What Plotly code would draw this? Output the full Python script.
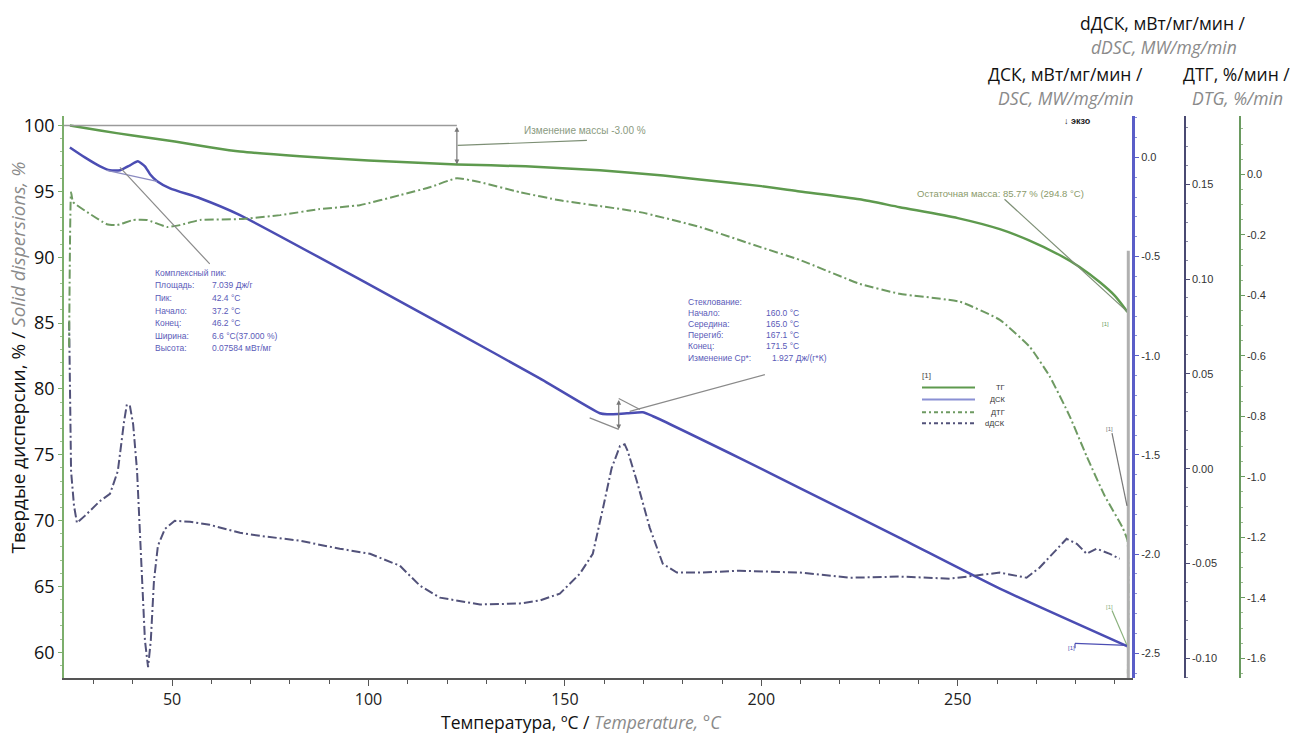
import plotly.graph_objects as go

# ---------------- data ----------------
# TG, % (left axis)
T_tg = [24.0, 31.7, 40.0, 50.7, 60.0, 67.3, 82.5, 100.0, 122.5, 140.0, 158.9, 175.0, 184.3,
        200.0, 209.8, 225.0, 235.2, 250.0, 260.7, 268.0, 275.9, 281.0, 286.1, 290.0, 293.2]
tg = [100.0, 99.62, 99.24, 98.79, 98.34, 98.03, 97.66, 97.35, 97.05, 96.9, 96.6, 96.2, 95.9,
      95.4, 95.0, 94.4, 93.8, 92.97, 92.13, 91.3, 90.17, 89.26, 88.12, 87.07, 85.85]

# DSC, mW/mg
T_dsc = [24.0, 27.8, 31.7, 34.2, 36.8, 39.3, 41.3, 43.1, 44.4, 46.2, 49.5, 57.1, 67.3, 99.9,
         120.7, 143.6, 158.9, 160.7, 165.8, 169.8, 172.4, 194.5, 209.8, 235.2, 260.7, 293.2]
dsc = [0.050, 0.000, -0.045, -0.065, -0.065, -0.040, -0.020, -0.045, -0.085, -0.120, -0.156,
       -0.206, -0.291, -0.638, -0.863, -1.114, -1.290, -1.295, -1.290, -1.285, -1.305, -1.516,
       -1.667, -1.918, -2.174, -2.465]

# DTG, %/min
T_dtg = [23.8, 24.3, 24.8, 28.4, 33.4, 36.0, 40.1, 43.6, 48.7, 52.0, 57.1, 67.3, 77.5, 87.6,
         97.8, 108.0, 115.6, 122.5, 128.4, 138.5, 148.7, 158.9, 169.1, 184.3, 199.6, 209.8,
         225.0, 235.2, 250.5, 260.7, 268.3, 273.4, 278.5, 282.8, 287.4, 292.0, 293.2, 293.3]
dtg = [-0.570, -0.059, -0.092, -0.125, -0.165, -0.168, -0.151, -0.151, -0.174, -0.168, -0.151,
       -0.148, -0.135, -0.115, -0.102, -0.069, -0.043, -0.013, -0.026, -0.059, -0.086, -0.105,
       -0.125, -0.174, -0.240, -0.283, -0.362, -0.395, -0.421, -0.481, -0.570, -0.668, -0.800,
       -0.932, -1.063, -1.169, -1.211, -1.650]

# dDSC, mW/mg/min
T_ddsc = [23.8, 24.3, 25.05, 25.8, 27.8, 31.7, 34.2, 36.2, 37.8, 38.5, 39.3, 40.1, 41.1, 42.1,
          43.1, 43.9, 44.6, 45.4, 46.4, 48.2, 50.7, 54.6, 59.6, 67.3, 72.4, 82.5, 92.7, 100.4,
          108.0, 113.1, 118.2, 128.4, 138.5, 143.6, 148.7, 153.8, 157.1, 159.7, 161.9, 164.0,
          165.2, 166.0, 168.3, 171.6, 174.9, 178.5, 184.3, 194.5, 209.8, 222.5, 235.2, 248.0,
          260.7, 267.5, 270.8, 277.7, 280.3, 282.8, 285.3, 288.7, 291.2]
ddsc = [0.0775, -0.0013, -0.0196, -0.0286, -0.0249, -0.0170, -0.0133, -0.0013, 0.0250, 0.0339,
        0.0329, 0.0234, -0.0013, -0.0485, -0.0905, -0.1047, -0.0905, -0.0590, -0.0407, -0.0317,
        -0.0275, -0.0280, -0.0296, -0.0338, -0.0354, -0.0380, -0.0422, -0.0449, -0.0512, -0.0617,
        -0.0680, -0.0716, -0.0711, -0.0695, -0.0659, -0.0554, -0.0449, -0.0207, 0.0003, 0.0119,
        0.0129, 0.0092, -0.0065, -0.0312, -0.0501, -0.0548, -0.0548, -0.0538, -0.0548, -0.0575,
        -0.0569, -0.0580, -0.0548, -0.0575, -0.0522, -0.0370, -0.0396, -0.0449, -0.0422, -0.0449,
        -0.0475]

x_ticks = [50, 100, 150, 200, 250]
left_ticks = [60, 65, 70, 75, 80, 85, 90, 95, 100]
dsc_ticks = [0.0, -0.5, -1.0, -1.5, -2.0, -2.5]
dsc_text = ["0.0", "-0.5", "-1.0", "-1.5", "-2.0", "-2.5"]
ddsc_ticks = [0.15, 0.10, 0.05, 0.00, -0.05, -0.10]
ddsc_text = ["0.15", "0.10", "0.05", "0.00", "-0.05", "-0.10"]
dtg_ticks = [0.0, -0.2, -0.4, -0.6, -0.8, -1.0, -1.2, -1.4, -1.6]
dtg_text = ["0.0", "-0.2", "-0.4", "-0.6", "-0.8", "-1.0", "-1.2", "-1.4", "-1.6"]

peak_labels = ["Комплексный пик:", "Площадь:", "Пик:", "Начало:", "Конец:", "Ширина:", "Высота:"]
peak_values = ["", "7.039 Дж/г", "42.4 °C", "37.2 °C", "46.2 °C", "6.6 °C(37.000 %)", "0.07584 мВт/мг"]
glass_labels = ["Стеклование:", "Начало:", "Середина:", "Перегиб:", "Конец:", "Изменение Cp*:"]
glass_values = ["", "160.0 °C", "165.0 °C", "167.1 °C", "171.5 °C", "1.927 Дж/(г*К)"]
legend_names = ["ТГ", "ДСК", "ДТГ", "dДСК"]

# ---------------- figure ----------------
W, H = 1306, 735
def px(v): return v / W
def py(v): return 1 - v / H

C_TG = "#5e9a4e"
C_DSC = "#4b4db3"
C_DTG = "#6e9a62"
C_DDSC = "#52527a"
DASHDOT = "9px,3px,2px,3px"
FONT = "Open Sans"

fig = go.Figure()
fig.add_trace(go.Scatter(x=T_tg, y=tg, mode="lines", yaxis="y",
                         line=dict(color=C_TG, width=2.5, shape="spline", smoothing=0.6)))
fig.add_trace(go.Scatter(x=T_dtg, y=dtg, mode="lines", yaxis="y4",
                         line=dict(color=C_DTG, width=2, dash=DASHDOT, shape="spline", smoothing=0.4)))
fig.add_trace(go.Scatter(x=T_ddsc, y=ddsc, mode="lines", yaxis="y3",
                         line=dict(color=C_DDSC, width=2, dash=DASHDOT)))
fig.add_trace(go.Scatter(x=T_dsc, y=dsc, mode="lines", yaxis="y2",
                         line=dict(color=C_DSC, width=2.5, shape="spline", smoothing=0.5)))

x_dom = [px(64), px(1133)]
y_dom = [py(678), py(113)]
right_font = dict(family="Arial", size=11, color="#333")

fig.update_layout(
    width=W, height=H, margin=dict(l=0, r=0, t=0, b=0),
    paper_bgcolor="white", plot_bgcolor="white", showlegend=False,
    font=dict(family=FONT),
    xaxis=dict(domain=x_dom, range=[22.5, 294.6], tickvals=x_ticks, showgrid=False,
               zeroline=False, showline=True, linecolor="#555", linewidth=2,
               ticks="outside", ticklen=6, tickcolor="#555",
               minor=dict(dtick=10, tick0=0, ticks="outside", ticklen=4, tickcolor="#555"),
               tickfont=dict(family=FONT, size=16, color="#222"), anchor="y"),
    yaxis=dict(domain=y_dom, range=[58.03, 100.76], tickvals=left_ticks, showgrid=False,
               zeroline=False, showline=True, linecolor="#7cae6c", linewidth=1.5,
               ticks="outside", ticklen=4, tickcolor="#7cae6c",
               minor=dict(dtick=1, tick0=0, ticks="outside", ticklen=2, tickcolor="#9cc08e"),
               tickfont=dict(family=FONT, size=18, color="#111")),
    yaxis2=dict(overlaying="y", side="right", anchor="free", position=px(1133),
                range=[-2.6255, 0.2108], tickvals=dsc_ticks, ticktext=dsc_text,
                showgrid=False, zeroline=False, showline=True, linecolor="#5a5ec8", linewidth=3,
                ticks="outside", ticklen=4, tickcolor="#5a5ec8",
                minor=dict(dtick=0.1, ticks="outside", ticklen=2, tickcolor="#8a8ed8"),
                tickfont=right_font),
    yaxis3=dict(overlaying="y", side="right", anchor="free", position=px(1185),
                range=[-0.1105, 0.1862], tickvals=ddsc_ticks, ticktext=ddsc_text,
                showgrid=False, zeroline=False, showline=True, linecolor="#4a4a72", linewidth=1.5,
                ticks="outside", ticklen=4, tickcolor="#4a4a72",
                minor=dict(dtick=0.01, ticks="outside", ticklen=2, tickcolor="#8888a0"),
                tickfont=right_font),
    yaxis4=dict(overlaying="y", side="right", anchor="free", position=px(1240),
                range=[-1.6658, 0.1942], tickvals=dtg_ticks, ticktext=dtg_text,
                showgrid=False, zeroline=False, showline=True, linecolor="#6a9a60", linewidth=1.5,
                ticks="outside", ticklen=4, tickcolor="#6a9a60",
                minor=dict(dtick=0.05, ticks="outside", ticklen=2, tickcolor="#9aba90"),
                tickfont=right_font),
)

shapes = []
def dline(x0, y0, x1, y1, color="#8a8a8a", width=1.2):
    shapes.append(dict(type="line", xref="x", yref="y", x0=x0, y0=y0, x1=x1, y1=y1,
                       line=dict(color=color, width=width)))
def pline(x0, y0, x1, y1, color="#8a8a8a", width=1.2, dash="solid"):
    shapes.append(dict(type="line", xref="paper", yref="paper", x0=px(x0), y0=py(y0),
                       x1=px(x1), y1=py(y1), line=dict(color=color, width=width, dash=dash)))

# mass-change construction
dline(22.5, 100.0, 122.5, 100.0, "#9a9a9a", 1.5)
dline(122.7, 98.49, 155.6, 98.87, "#7d8f75", 1.2)
# residual mass pointer
dline(261.9, 94.40, 293.2, 85.85, "#7d8f75", 1.2)
# complex peak baseline and pointer
dline(33.4, 96.6, 46.2, 95.76, "#8a8ac0", 1.2)
dline(36.75, 96.82, 59.6, 89.49, "#8a8a8a", 1.2)
# glass transition construction
dline(156.3, 77.8, 163.7, 76.93, "#8a8a8a", 1.2)
dline(163.7, 79.27, 169.1, 78.44, "#8a8a8a", 1.2)
dline(166.5, 78.29, 200.9, 81.09, "#8a8a8a", 1.2)
# grey end bar
dline(293.4, 90.5, 293.4, 58.03, "#b0b0b0", 3)

# "[1]" markers near the curve ends
pline(1112, 432, 1127, 505, "#777")
pline(1112, 610, 1127, 645, "#8ab07c")
pline(1075, 648, 1075, 643, C_DSC)
pline(1075, 643, 1127, 645, C_DSC)

# legend lines
leg_y = [386, 398, 411, 422]
leg_col = [C_TG, "#8a90d4", C_DTG, C_DDSC]
leg_dash = ["solid", "solid", "4px,3px,2px,3px", "4px,3px,2px,3px"]
for yy, cc, dd in zip(leg_y, leg_col, leg_dash):
    pline(922, yy, 975, yy, cc, 2, dd)

fig.update_layout(shapes=shapes)

ann = []
def text(x, y, s, size=8, color="#5a5ab0", xanchor="left", **kw):
    ann.append(dict(x=px(x), y=py(y), xref="paper", yref="paper", text=s, showarrow=False,
                    xanchor=xanchor, yanchor="middle", font=dict(family="Arial", size=size, color=color), **kw))

text(522, 128, "Изменение массы -3.00 %", 10, "#8a9a80")
text(915, 191, "Остаточная масса: 85.77 % (294.8 °C)", 9.5, "#8a9a6a")
for i, (lab, val) in enumerate(zip(peak_labels, peak_values)):
    text(153, 271 + i * 12.6, lab, 8.5, "#5a5ab8")
    if val:
        text(210, 271 + i * 12.6, val, 8.5, "#5a5ab8")
for i, (lab, val) in enumerate(zip(glass_labels, glass_values)):
    text(686, 300 + i * 11.2, lab, 8.5, "#5a5ab8")
    if val:
        text(764 if i < 5 else 770, 300 + i * 11.2, val, 8.5, "#5a5ab8")
text(920, 374, "[1]", 8, "#444")
for yy, nm in zip(leg_y, legend_names):
    text(1007, yy, nm, 7.5, "#333", xanchor="right")
text(1062, 118, "<b>↓ экзо</b>", 9, "#222")
text(1100, 322, "[1]", 6, "#6aa060")
text(1104, 428, "[1]", 6, "#777")
text(1104, 606, "[1]", 6, "#8ab07c")
text(1066, 648, "[1]", 6, C_DSC)

# vertical double arrows
ann.append(dict(x=122.5, y=97.05, ax=122.5, ay=100.0, xref="x", yref="y", axref="x", ayref="y",
                showarrow=True, arrowhead=2, arrowside="end+start", arrowsize=0.8,
                arrowwidth=1.2, arrowcolor="#777", text=""))
ann.append(dict(x=163.7, y=76.93, ax=163.7, ay=79.27, xref="x", yref="y", axref="x", ayref="y",
                showarrow=True, arrowhead=2, arrowside="end+start", arrowsize=0.8,
                arrowwidth=1.2, arrowcolor="#777", text=""))

GREY = "#8a8a8a"
def grey_it(s):
    return "<span style='color:" + GREY + "'><i>" + s + "</i></span>"

def title(x, y, s, size=17.5, angle=0, xanchor="center"):
    ann.append(dict(x=px(x), y=py(y), xref="paper", yref="paper", text=s, showarrow=False,
                    xanchor=xanchor, yanchor="middle", textangle=angle,
                    font=dict(family=FONT, size=size, color="#111")))

title(581, 722, "Температура, ºC / " + grey_it("Temperature, °C"), 17.5)
title(18, 356, "Твердые дисперсии, % / " + grey_it("Solid dispersions, %"), 19, -90)
title(1163, 20, "dДСК, мВт/мг/мин /", 17.5)
title(1164, 44, grey_it("dDSC, MW/mg/min"), 17.5)
title(1065, 71, "ДСК, мВт/мг/мин /", 17.5)
title(1066, 95, grey_it("DSC, MW/mg/min"), 17.5)
title(1236, 71, "ДТГ, %/мин /", 17.5)
title(1237, 95, grey_it("DTG, %/min"), 17.5)

fig.update_layout(annotations=ann)
fig.write_html("out.html")
